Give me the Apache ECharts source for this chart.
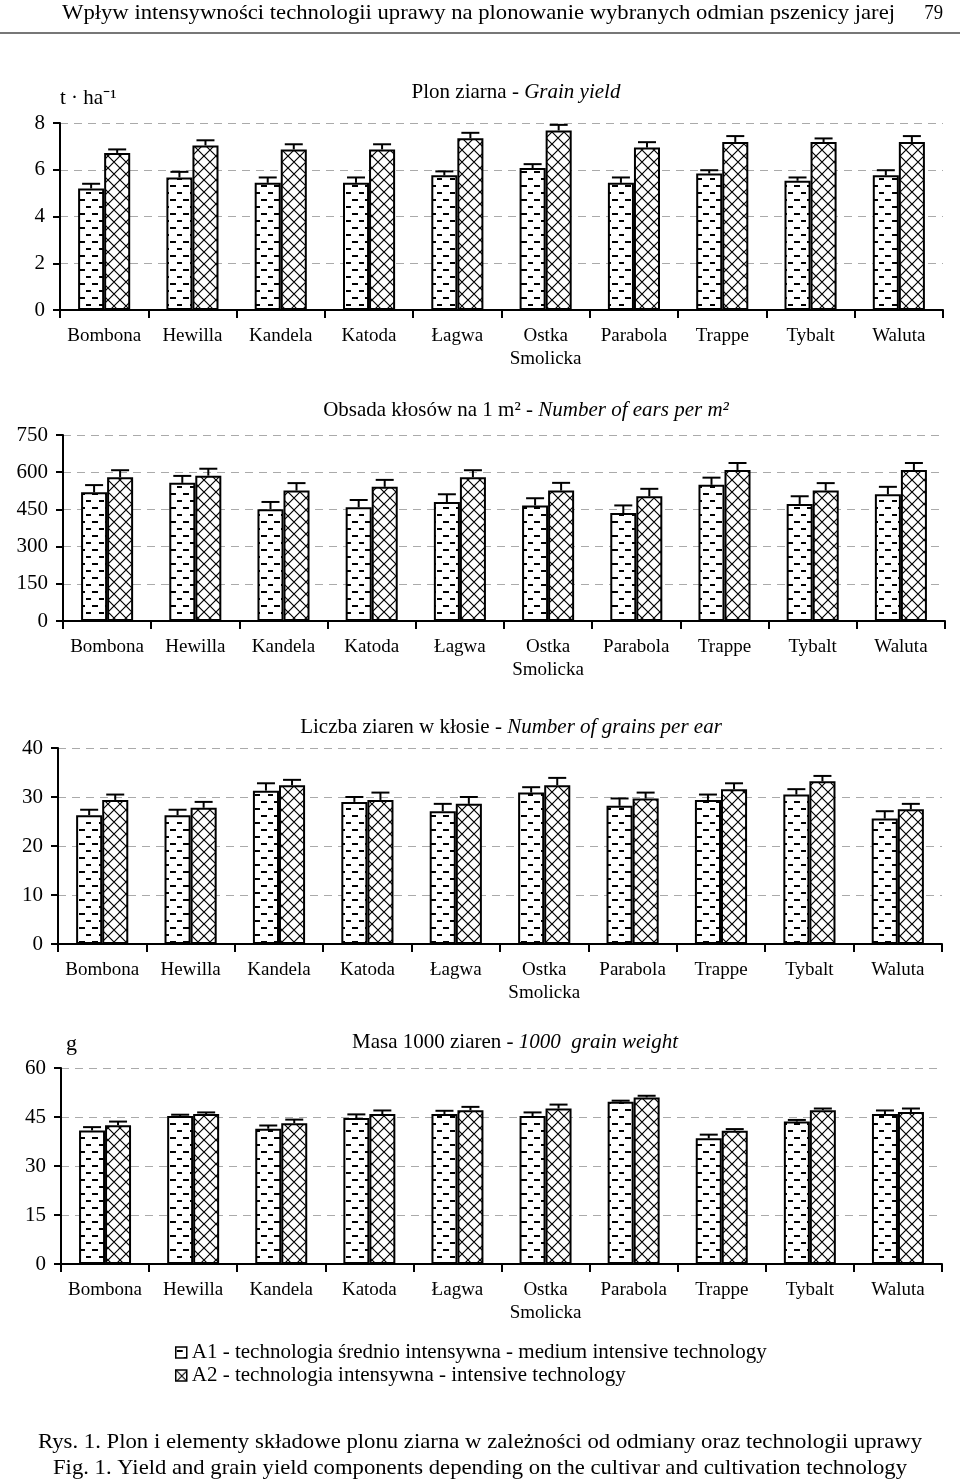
<!DOCTYPE html>
<html><head><meta charset="utf-8">
<script src="https://cdn.jsdelivr.net/npm/echarts@6/dist/echarts.min.js"></script>
<style>html,body{margin:0;padding:0;background:#fff}#c{width:960px;height:1484px}</style>
</head><body><div id="c"></div>
<script>
// ---------- data ----------
const categories = ['Bombona','Hewilla','Kandela','Katoda','Łagwa','Ostka\nSmolicka','Parabola','Trappe','Tybalt','Waluta'];

const yieldA1    = [5.20, 5.67, 5.44, 5.44, 5.76, 6.07, 5.44, 5.84, 5.53, 5.76];
const yieldA1Err = [0.20, 0.24, 0.23, 0.23, 0.17, 0.17, 0.23, 0.14, 0.14, 0.22];
const yieldA2    = [6.72, 7.04, 6.87, 6.87, 7.35, 7.68, 6.95, 7.19, 7.19, 7.19];
const yieldA2Err = [0.15, 0.22, 0.22, 0.22, 0.23, 0.24, 0.23, 0.25, 0.15, 0.25];

const earsA1    = [519, 557, 451, 459, 480, 466, 435, 549, 472, 511];
const earsA1Err = [29, 28, 29, 29, 31, 29, 31, 29, 31, 30];
const earsA2    = [580, 586, 526, 541, 580, 526, 503, 609, 526, 609];
const earsA2Err = [28, 28, 30, 28, 28, 31, 30, 28, 30, 28];

const grainsA1    = [26.3, 26.3, 31.3, 29.0, 27.1, 30.9, 28.2, 29.4, 30.5, 25.6];
const grainsA1Err = [1.1, 1.1, 1.5, 1.0, 1.5, 1.1, 1.5, 1.1, 1.1, 1.5];
const grainsA2    = [29.4, 27.8, 32.4, 29.4, 28.6, 32.4, 29.7, 31.6, 33.2, 27.5];
const grainsA2Err = [1.1, 1.2, 1.1, 1.5, 1.4, 1.5, 1.2, 1.2, 1.1, 1.1];

const tgwA1    = [40.9, 45.3, 41.4, 44.7, 45.9, 45.3, 49.7, 38.5, 43.6, 45.9];
const tgwA1Err = [1.0, 0.4, 1.0, 1.1, 1.0, 1.1, 0.3, 1.1, 0.5, 1.1];
const tgwA2    = [42.5, 45.9, 43.1, 45.9, 47.1, 47.6, 51.0, 40.8, 47.1, 46.5];
const tgwA2Err = [1.1, 0.5, 1.1, 1.1, 1.0, 1.2, 0.5, 0.5, 0.5, 1.1];

const yieldTicks  = [0, 8, 2];
const earsTicks   = [0, 750, 150];
const grainsTicks = [0, 40, 10];
const tgwTicks    = [0, 60, 15];

const LEG1 = 'A1 - technologia średnio intensywna - medium intensive technology';
const LEG2 = 'A2 - technologia intensywna - intensive technology';

// ---------- styles ----------
const FONT = '"Liberation Serif", "Times New Roman", serif';
const BAR_FRAC = 0.295;

function makeDash(){
  const c = document.createElement('canvas'); c.width = 13; c.height = 14;
  const g = c.getContext('2d');
  g.fillStyle = '#fff'; g.fillRect(0,0,13,14);
  g.fillStyle = '#000';
  g.fillRect(1,3,6,2);
  g.fillRect(8,10,5,2);
  return c;
}
function makeCross(){
  const c = document.createElement('canvas'); c.width = 12; c.height = 12;
  const g = c.getContext('2d');
  g.fillStyle = '#fff'; g.fillRect(0,0,12,12);
  g.strokeStyle = '#000'; g.lineWidth = 1.2;
  g.beginPath(); g.moveTo(0,0); g.lineTo(12,12); g.moveTo(12,0); g.lineTo(0,12); g.stroke();
  return c;
}
const dashPat = {image: makeDash(), repeat: 'repeat'};
const crossPat = {image: makeCross(), repeat: 'repeat'};

function measure(text, size){
  const ctx = document.createElement('canvas').getContext('2d');
  ctx.font = size + 'px ' + FONT;
  return ctx.measureText(text).width;
}

const grids = [
  {left: 60, top: 123, width: 883, height: 187},
  {left: 63, top: 435, width: 882, height: 186},
  {left: 58, top: 748, width: 884, height: 196},
  {left: 61, top: 1068, width: 881, height: 196}
];
const ticks = [yieldTicks, earsTicks, grainsTicks, tgwTicks];
const sets = [
  [yieldA1, yieldA1Err, yieldA2, yieldA2Err],
  [earsA1, earsA1Err, earsA2, earsA2Err],
  [grainsA1, grainsA1Err, grainsA2, grainsA2Err],
  [tgwA1, tgwA1Err, tgwA2, tgwA2Err]
];

const xAxes = grids.map((g, k) => ({
  gridIndex: k, type: 'category', data: categories,
  axisLine: {show: true, lineStyle: {color: '#000', width: 2}},
  axisTick: {show: true, length: 8, lineStyle: {color: '#000', width: 2}},
  axisLabel: {interval: 0, color: '#000', fontFamily: FONT, fontSize: 19, margin: 15, lineHeight: 23},
  splitLine: {show: false}
}));
const yAxes = grids.map((g, k) => ({
  gridIndex: k, type: 'value', min: ticks[k][0], max: ticks[k][1], interval: ticks[k][2],
  axisLine: {show: true, lineStyle: {color: '#000', width: 2}},
  axisTick: {show: true, length: 7, lineStyle: {color: '#000', width: 2}},
  axisLabel: {color: '#000', fontFamily: FONT, fontSize: 21, margin: 15},
  splitLine: {show: true, lineStyle: {color: '#aaa', width: 1, type: [8, 6]}}
}));

function errSeries(k, vals, errs, side){
  return {
    type: 'custom', xAxisIndex: k, yAxisIndex: k, silent: true, z: 5,
    data: vals.map((v, i) => [i, v, errs[i]]),
    renderItem: function(params, api){
      const bw = api.size([1, 0])[0] * BAR_FRAC;
      const p0 = api.coord([api.value(0), api.value(1)]);
      const p1 = api.coord([api.value(0), api.value(1) + api.value(2)]);
      const cx = p0[0] + side * bw / 2;
      const cap = 9;
      return {type: 'group', children: [
        {type: 'line', shape: {x1: cx, y1: p0[1], x2: cx, y2: p1[1]}, style: {stroke: '#000', lineWidth: 2}},
        {type: 'line', shape: {x1: cx - cap, y1: p1[1], x2: cx + cap, y2: p1[1]}, style: {stroke: '#000', lineWidth: 2}}
      ]};
    }
  };
}

const series = [];
sets.forEach((s, k) => {
  series.push({type: 'bar', name: LEG1, xAxisIndex: k, yAxisIndex: k, data: s[0],
    barWidth: (BAR_FRAC*100) + '%', barGap: '0%',
    itemStyle: {color: dashPat, borderColor: '#000', borderWidth: 2}, emphasis: {disabled: true}});
  series.push({type: 'bar', name: LEG2, xAxisIndex: k, yAxisIndex: k, data: s[2],
    barWidth: (BAR_FRAC*100) + '%', barGap: '0%',
    itemStyle: {color: crossPat, borderColor: '#000', borderWidth: 2}, emphasis: {disabled: true}});
  series.push(errSeries(k, s[0], s[1], -1));
  series.push(errSeries(k, s[2], s[3], 1));
});

// ---------- texts ----------
const HEADER = 'Wpływ intensywności technologii uprawy na plonowanie wybranych odmian pszenicy jarej';
const CAP1 = 'Rys. 1. Plon i elementy składowe plonu ziarna w zależności od odmiany oraz technologii uprawy';
const CAP2 = 'Fig. 1. Yield and grain yield components depending on the cultivar and cultivation technology';
const hs = 22;
const cs = 21;

function richTitle(x, y, text){
  return {type: 'text', x: x, y: y, silent: true, style: {
    text: text, textAlign: 'center', textVerticalAlign: 'middle',
    rich: {
      n: {fontFamily: FONT, fontSize: 21, fill: '#000', color: '#000'},
      i: {fontFamily: FONT, fontSize: 21, fontStyle: 'italic', fill: '#000', color: '#000'}
    }
  }};
}

const graphic = [
  {type: 'text', x: 62, y: 13, scaleX: 833 / measure(HEADER, hs), silent: true,
   style: {text: HEADER, font: hs + 'px ' + FONT, fill: '#000', textAlign: 'left', textVerticalAlign: 'middle'}},
  {type: 'text', x: 943, y: 13, scaleX: 0.85, silent: true,
   style: {text: '79', font: hs + 'px ' + FONT, fill: '#000', textAlign: 'right', textVerticalAlign: 'middle'}},
  {type: 'line', silent: true, shape: {x1: 0, y1: 33, x2: 960, y2: 33}, style: {stroke: '#777', lineWidth: 2}},

  {type: 'text', x: 60, y: 98, silent: true,
   style: {text: 't · ha⁻¹', font: '21px ' + FONT, fill: '#000', textAlign: 'left', textVerticalAlign: 'middle'}},
  richTitle(516, 92, '{n|Plon ziarna - }{i|Grain yield}'),
  richTitle(526, 410, '{n|Obsada kłosów na 1 m² - }{i|Number of ears per m²}'),
  richTitle(511, 727, '{n|Liczba ziaren w kłosie - }{i|Number of grains per ear}'),
  {type: 'text', x: 66, y: 1044, silent: true,
   style: {text: 'g', font: '22px ' + FONT, fill: '#000', textAlign: 'left', textVerticalAlign: 'middle'}},
  richTitle(515, 1042, '{n|Masa 1000 ziaren - }{i|1000  grain weight}'),

  {type: 'text', x: 480, y: 1442, scaleX: 884 / measure(CAP1, cs), silent: true,
   style: {text: CAP1, font: cs + 'px ' + FONT, fill: '#000', textAlign: 'center', textVerticalAlign: 'middle'}},
  {type: 'text', x: 480, y: 1468, scaleX: 854 / measure(CAP2, cs), silent: true,
   style: {text: CAP2, font: cs + 'px ' + FONT, fill: '#000', textAlign: 'center', textVerticalAlign: 'middle'}}
];

const chart = echarts.init(document.getElementById('c'), null, {renderer: 'canvas'});
chart.setOption({
  animation: false,
  backgroundColor: '#fff',
  grid: grids,
  xAxis: xAxes,
  yAxis: yAxes,
  series: series,
  legend: {
    data: [LEG1, LEG2], orient: 'vertical', left: 170, top: 1337,
    icon: 'rect', itemWidth: 11, itemHeight: 11, itemGap: 2, selectedMode: false,
    itemStyle: {borderWidth: 1.5},
    textStyle: {fontFamily: FONT, fontSize: 21, lineHeight: 20, color: '#000'}
  },
  graphic: graphic
});
</script>
</body></html>
